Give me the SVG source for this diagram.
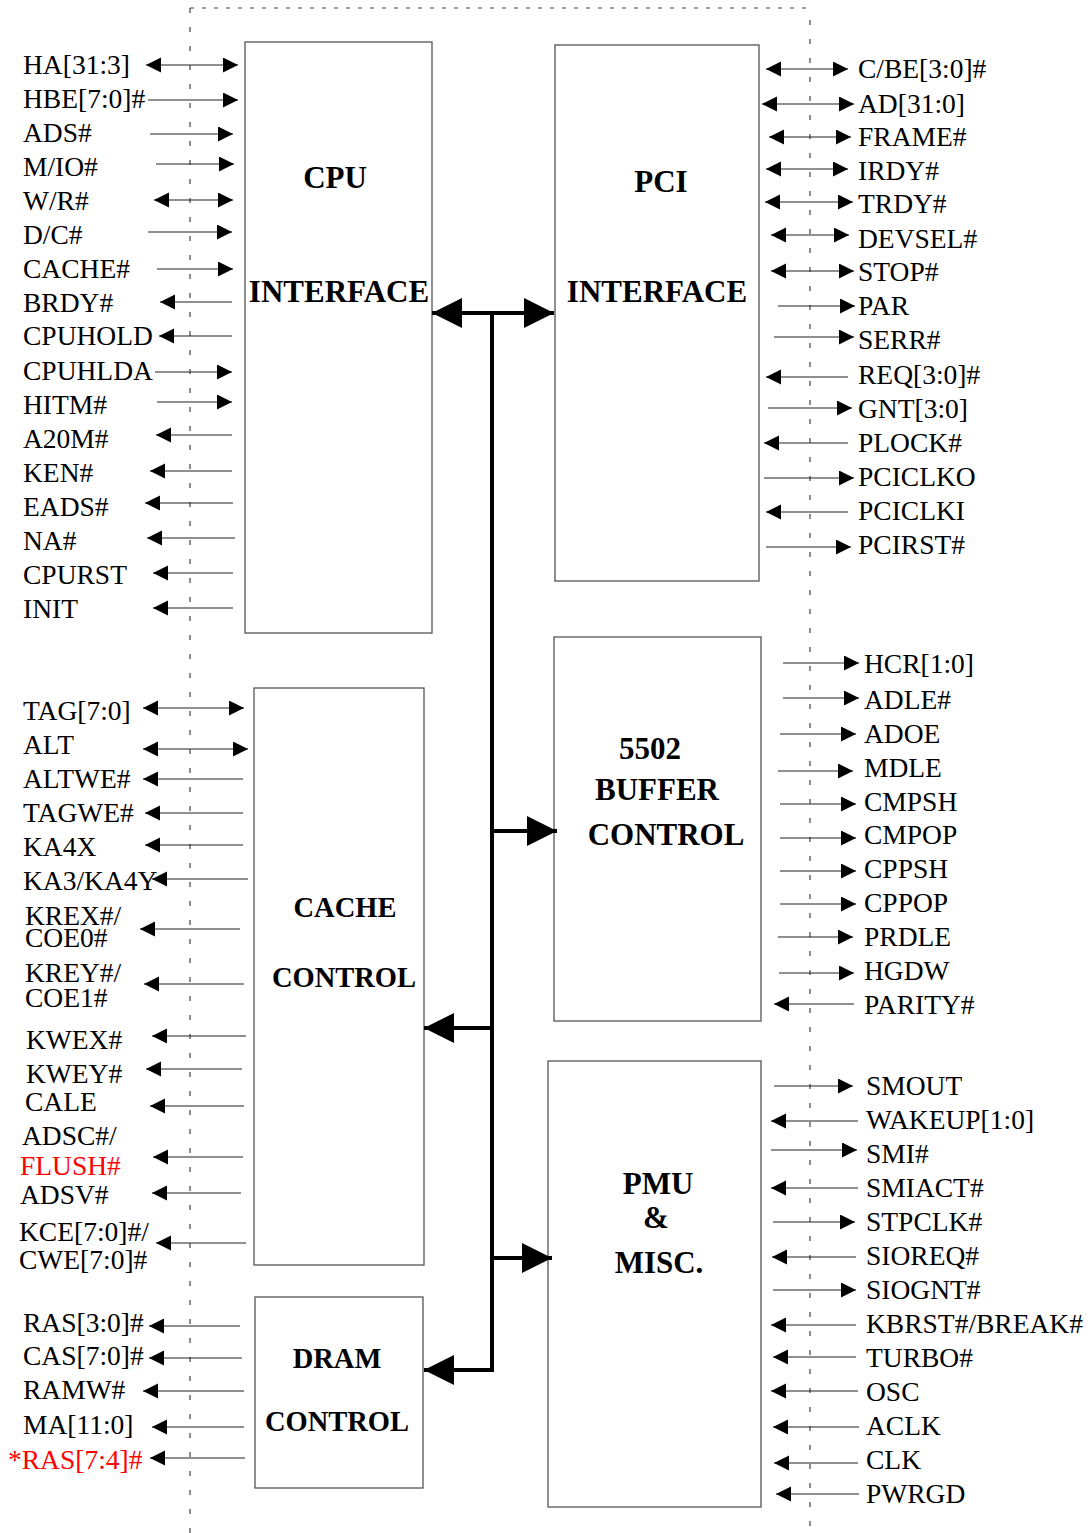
<svg xmlns="http://www.w3.org/2000/svg" width="1088" height="1533" viewBox="0 0 1088 1533">
<style>
.bg{fill:#fff}
.box{fill:#fff;stroke:#555;stroke-width:1.3}
.ttl{font-family:"Liberation Serif","Times New Roman",serif;font-weight:bold;font-size:31px;fill:#000;text-anchor:middle}
.ttl2{font-family:"Liberation Serif","Times New Roman",serif;font-weight:bold;font-size:28.5px;fill:#000;text-anchor:middle}
.lbl{font-family:"Liberation Serif","Times New Roman",serif;font-size:27.5px;fill:#000}
.red{fill:#ff0000}
.sig{stroke:#222;stroke-width:1.2;fill:none;marker-end:url(#ah)}
.bi{marker-start:url(#ah)}
.bus{stroke:#000;stroke-width:4;fill:none}
.busA{marker-end:url(#bh)}
.dash{stroke:#444;stroke-width:1.2;fill:none}
</style>
<defs>
<marker id="ah" markerUnits="userSpaceOnUse" markerWidth="16" markerHeight="16" refX="15" refY="7.5" orient="auto-start-reverse" viewBox="0 0 16 16">
<path d="M0,0 L15,7.5 L0,15 z" fill="#000"/>
</marker>
<marker id="bh" markerUnits="userSpaceOnUse" markerWidth="31" markerHeight="31" refX="30" refY="15" orient="auto-start-reverse" viewBox="0 0 31 31">
<path d="M0,0 L30,15 L0,30 z" fill="#000"/>
</marker>
</defs>
<rect class="bg" x="0" y="0" width="1088" height="1533"/>

<g id="frame">
<line class="dash" x1="190" y1="8" x2="810" y2="8" stroke-dasharray="4 8"/>
<line class="dash" x1="190" y1="8" x2="190" y2="1533" stroke-dasharray="5 14"/>
<line class="dash" x1="810" y1="20" x2="810" y2="1533" stroke-dasharray="5 14"/>
</g>

<g id="cpu-interface">
<rect class="box" x="245" y="42" width="187" height="591"/>
<text class="ttl" x="335" y="188">CPU</text>
<text class="ttl" x="339" y="302">INTERFACE</text>
<g class="lbl">
<text x="23" y="74">HA[31:3]</text>
<text x="23" y="108">HBE[7:0]#</text>
<text x="23" y="142">ADS#</text>
<text x="23" y="176">M/IO#</text>
<text x="23" y="210">W/R#</text>
<text x="23" y="244">D/C#</text>
<text x="23" y="278">CACHE#</text>
<text x="23" y="312">BRDY#</text>
<text x="23" y="345">CPUHOLD</text>
<text x="23" y="380">CPUHLDA</text>
<text x="23" y="414">HITM#</text>
<text x="23" y="448">A20M#</text>
<text x="23" y="482">KEN#</text>
<text x="23" y="516">EADS#</text>
<text x="23" y="550">NA#</text>
<text x="23" y="584">CPURST</text>
<text x="23" y="618">INIT</text>
</g>
</g>

<g id="cache-control">
<rect class="box" x="254" y="688" width="170" height="577"/>
<text class="ttl2" x="345" y="917">CACHE</text>
<text class="ttl2" x="344" y="987">CONTROL</text>
<g class="lbl">
<text x="23" y="720">TAG[7:0]</text>
<text x="23" y="754">ALT</text>
<text x="23" y="788">ALTWE#</text>
<text x="23" y="822">TAGWE#</text>
<text x="23" y="856">KA4X</text>
<text x="23" y="890">KA3/KA4Y</text>
<text x="25" y="925">KREX#/<tspan x="25" y="947">COE0#</tspan></text>
<text x="25" y="982">KREY#/<tspan x="25" y="1007">COE1#</tspan></text>
<text x="26" y="1049">KWEX#</text>
<text x="26" y="1083">KWEY#</text>
<text x="25" y="1111">CALE</text>
<text x="22" y="1145">ADSC#/</text>
<text class="red" x="20" y="1175">FLUSH#</text>
<text x="20" y="1204">ADSV#</text>
<text x="19" y="1241">KCE[7:0]#/<tspan x="19" y="1269">CWE[7:0]#</tspan></text>
</g>
</g>

<g id="dram-control">
<rect class="box" x="255" y="1297" width="168" height="191"/>
<text class="ttl2" x="337" y="1368">DRAM</text>
<text class="ttl2" x="337" y="1431">CONTROL</text>
<g class="lbl">
<text x="23" y="1332">RAS[3:0]#</text>
<text x="23" y="1365">CAS[7:0]#</text>
<text x="23" y="1399">RAMW#</text>
<text x="23" y="1434">MA[11:0]</text>
<text class="red" x="8" y="1469">*RAS[7:4]#</text>
</g>
</g>

<g id="pci-interface">
<rect class="box" x="555" y="45" width="204" height="536"/>
<text class="ttl" x="661" y="192">PCI</text>
<text class="ttl" x="657" y="302">INTERFACE</text>
<g class="lbl">
<text x="858" y="78">C/BE[3:0]#</text>
<text x="858" y="113">AD[31:0]</text>
<text x="858" y="146">FRAME#</text>
<text x="858" y="180">IRDY#</text>
<text x="858" y="213">TRDY#</text>
<text x="858" y="248">DEVSEL#</text>
<text x="858" y="281">STOP#</text>
<text x="858" y="315">PAR</text>
<text x="858" y="349">SERR#</text>
<text x="858" y="384">REQ[3:0]#</text>
<text x="858" y="418">GNT[3:0]</text>
<text x="858" y="452">PLOCK#</text>
<text x="858" y="486">PCICLKO</text>
<text x="858" y="520">PCICLKI</text>
<text x="858" y="554">PCIRST#</text>
</g>
</g>

<g id="buffer-control">
<rect class="box" x="554" y="637" width="207" height="384"/>
<text class="ttl" x="650" y="759">5502</text>
<text class="ttl" x="657" y="800">BUFFER</text>
<text class="ttl" x="666" y="845">CONTROL</text>
<g class="lbl">
<text x="864" y="673">HCR[1:0]</text>
<text x="864" y="709">ADLE#</text>
<text x="864" y="743">ADOE</text>
<text x="864" y="777">MDLE</text>
<text x="864" y="811">CMPSH</text>
<text x="864" y="844">CMPOP</text>
<text x="864" y="878">CPPSH</text>
<text x="864" y="912">CPPOP</text>
<text x="864" y="946">PRDLE</text>
<text x="864" y="980">HGDW</text>
<text x="864" y="1014">PARITY#</text>
</g>
</g>

<g id="pmu-misc">
<rect class="box" x="548" y="1061" width="213" height="446"/>
<text class="ttl" x="658" y="1194">PMU</text>
<text class="ttl" x="656" y="1228">&amp;</text>
<text class="ttl" x="659" y="1273">MISC.</text>
<g class="lbl">
<text x="866" y="1095">SMOUT</text>
<text x="866" y="1129">WAKEUP[1:0]</text>
<text x="866" y="1163">SMI#</text>
<text x="866" y="1197">SMIACT#</text>
<text x="866" y="1231">STPCLK#</text>
<text x="866" y="1265">SIOREQ#</text>
<text x="866" y="1299">SIOGNT#</text>
<text x="866" y="1333">KBRST#/BREAK#</text>
<text x="866" y="1367">TURBO#</text>
<text x="866" y="1401">OSC</text>
<text x="866" y="1435">ACLK</text>
<text x="866" y="1469">CLK</text>
<text x="866" y="1503">PWRGD</text>
</g>
</g>

<g id="connectors">
<g id="bus">
<line class="bus" x1="492" y1="313" x2="492" y2="1370"/>
<line class="bus busA" x1="492" y1="313" x2="432" y2="313"/>
<line class="bus busA" x1="492" y1="313" x2="554" y2="313"/>
<line class="bus busA" x1="492" y1="831" x2="557" y2="831"/>
<line class="bus busA" x1="492" y1="1028" x2="424" y2="1028"/>
<line class="bus busA" x1="492" y1="1258" x2="552" y2="1258"/>
<line class="bus busA" x1="494" y1="1370" x2="424" y2="1370"/>
</g>
<g id="cpu-signals">
<line class="sig bi" x1="146" y1="65" x2="238" y2="65"/>
<line class="sig" x1="148" y1="100" x2="238" y2="100"/>
<line class="sig" x1="150" y1="134" x2="233" y2="134"/>
<line class="sig" x1="156" y1="164" x2="234" y2="164"/>
<line class="sig bi" x1="154" y1="200" x2="233" y2="200"/>
<line class="sig" x1="148" y1="232" x2="232" y2="232"/>
<line class="sig" x1="157" y1="269" x2="233" y2="269"/>
<line class="sig" x1="232" y1="302" x2="160" y2="302"/>
<line class="sig" x1="232" y1="336" x2="159" y2="336"/>
<line class="sig" x1="155" y1="372" x2="232" y2="372"/>
<line class="sig" x1="157" y1="402" x2="232" y2="402"/>
<line class="sig" x1="232" y1="435" x2="156" y2="435"/>
<line class="sig" x1="232" y1="471" x2="150" y2="471"/>
<line class="sig" x1="233" y1="503" x2="145" y2="503"/>
<line class="sig" x1="235" y1="538" x2="147" y2="538"/>
<line class="sig" x1="233" y1="573" x2="153" y2="573"/>
<line class="sig" x1="233" y1="608" x2="153" y2="608"/>
</g>
<g id="cache-signals">
<line class="sig bi" x1="143" y1="708" x2="244" y2="708"/>
<line class="sig bi" x1="143" y1="749" x2="248" y2="749"/>
<line class="sig" x1="243" y1="779" x2="143" y2="779"/>
<line class="sig" x1="243" y1="813" x2="145" y2="813"/>
<line class="sig" x1="243" y1="845" x2="145" y2="845"/>
<line class="sig" x1="248" y1="879" x2="152" y2="879"/>
<line class="sig" x1="240" y1="929" x2="140" y2="929"/>
<line class="sig" x1="244" y1="984" x2="144" y2="984"/>
<line class="sig" x1="246" y1="1036" x2="152" y2="1036"/>
<line class="sig" x1="242" y1="1069" x2="146" y2="1069"/>
<line class="sig" x1="244" y1="1106" x2="150" y2="1106"/>
<line class="sig" x1="243" y1="1157" x2="153" y2="1157"/>
<line class="sig" x1="241" y1="1193" x2="152" y2="1193"/>
<line class="sig" x1="246" y1="1243" x2="156" y2="1243"/>
</g>
<g id="dram-signals">
<line class="sig" x1="240" y1="1326" x2="149" y2="1326"/>
<line class="sig" x1="242" y1="1358" x2="149" y2="1358"/>
<line class="sig" x1="244" y1="1391" x2="143" y2="1391"/>
<line class="sig" x1="244" y1="1427" x2="152" y2="1427"/>
<line class="sig" x1="245" y1="1458" x2="150" y2="1458"/>
</g>
<g id="pci-signals">
<line class="sig bi" x1="766" y1="69" x2="848" y2="69"/>
<line class="sig bi" x1="762" y1="104" x2="854" y2="104"/>
<line class="sig bi" x1="769" y1="137" x2="851" y2="137"/>
<line class="sig bi" x1="766" y1="169" x2="848" y2="169"/>
<line class="sig bi" x1="765" y1="202" x2="853" y2="202"/>
<line class="sig bi" x1="771" y1="235" x2="849" y2="235"/>
<line class="sig bi" x1="771" y1="271" x2="854" y2="271"/>
<line class="sig" x1="778" y1="306" x2="855" y2="306"/>
<line class="sig" x1="774" y1="337" x2="854" y2="337"/>
<line class="sig" x1="848" y1="377" x2="766" y2="377"/>
<line class="sig" x1="768" y1="408" x2="852" y2="408"/>
<line class="sig" x1="848" y1="443" x2="764" y2="443"/>
<line class="sig" x1="764" y1="478" x2="854" y2="478"/>
<line class="sig" x1="848" y1="512" x2="766" y2="512"/>
<line class="sig" x1="766" y1="547" x2="851" y2="547"/>
</g>
<g id="buffer-signals">
<line class="sig" x1="783" y1="663" x2="859" y2="663"/>
<line class="sig" x1="783" y1="698" x2="859" y2="698"/>
<line class="sig" x1="780" y1="734" x2="856" y2="734"/>
<line class="sig" x1="778" y1="771" x2="853" y2="771"/>
<line class="sig" x1="780" y1="804" x2="856" y2="804"/>
<line class="sig" x1="780" y1="838" x2="856" y2="838"/>
<line class="sig" x1="780" y1="871" x2="856" y2="871"/>
<line class="sig" x1="780" y1="904" x2="856" y2="904"/>
<line class="sig" x1="778" y1="937" x2="853" y2="937"/>
<line class="sig" x1="779" y1="973" x2="854" y2="973"/>
<line class="sig" x1="854" y1="1004" x2="774" y2="1004"/>
</g>
<g id="pmu-signals">
<line class="sig" x1="774" y1="1086" x2="853" y2="1086"/>
<line class="sig" x1="858" y1="1121" x2="771" y2="1121"/>
<line class="sig" x1="771" y1="1150" x2="857" y2="1150"/>
<line class="sig" x1="858" y1="1188" x2="771" y2="1188"/>
<line class="sig" x1="773" y1="1222" x2="855" y2="1222"/>
<line class="sig" x1="856" y1="1257" x2="772" y2="1257"/>
<line class="sig" x1="773" y1="1290" x2="856" y2="1290"/>
<line class="sig" x1="856" y1="1325" x2="771" y2="1325"/>
<line class="sig" x1="856" y1="1357" x2="773" y2="1357"/>
<line class="sig" x1="858" y1="1391" x2="771" y2="1391"/>
<line class="sig" x1="859" y1="1427" x2="773" y2="1427"/>
<line class="sig" x1="858" y1="1463" x2="774" y2="1463"/>
<line class="sig" x1="859" y1="1494" x2="776" y2="1494"/>
</g>
</g>
</svg>
